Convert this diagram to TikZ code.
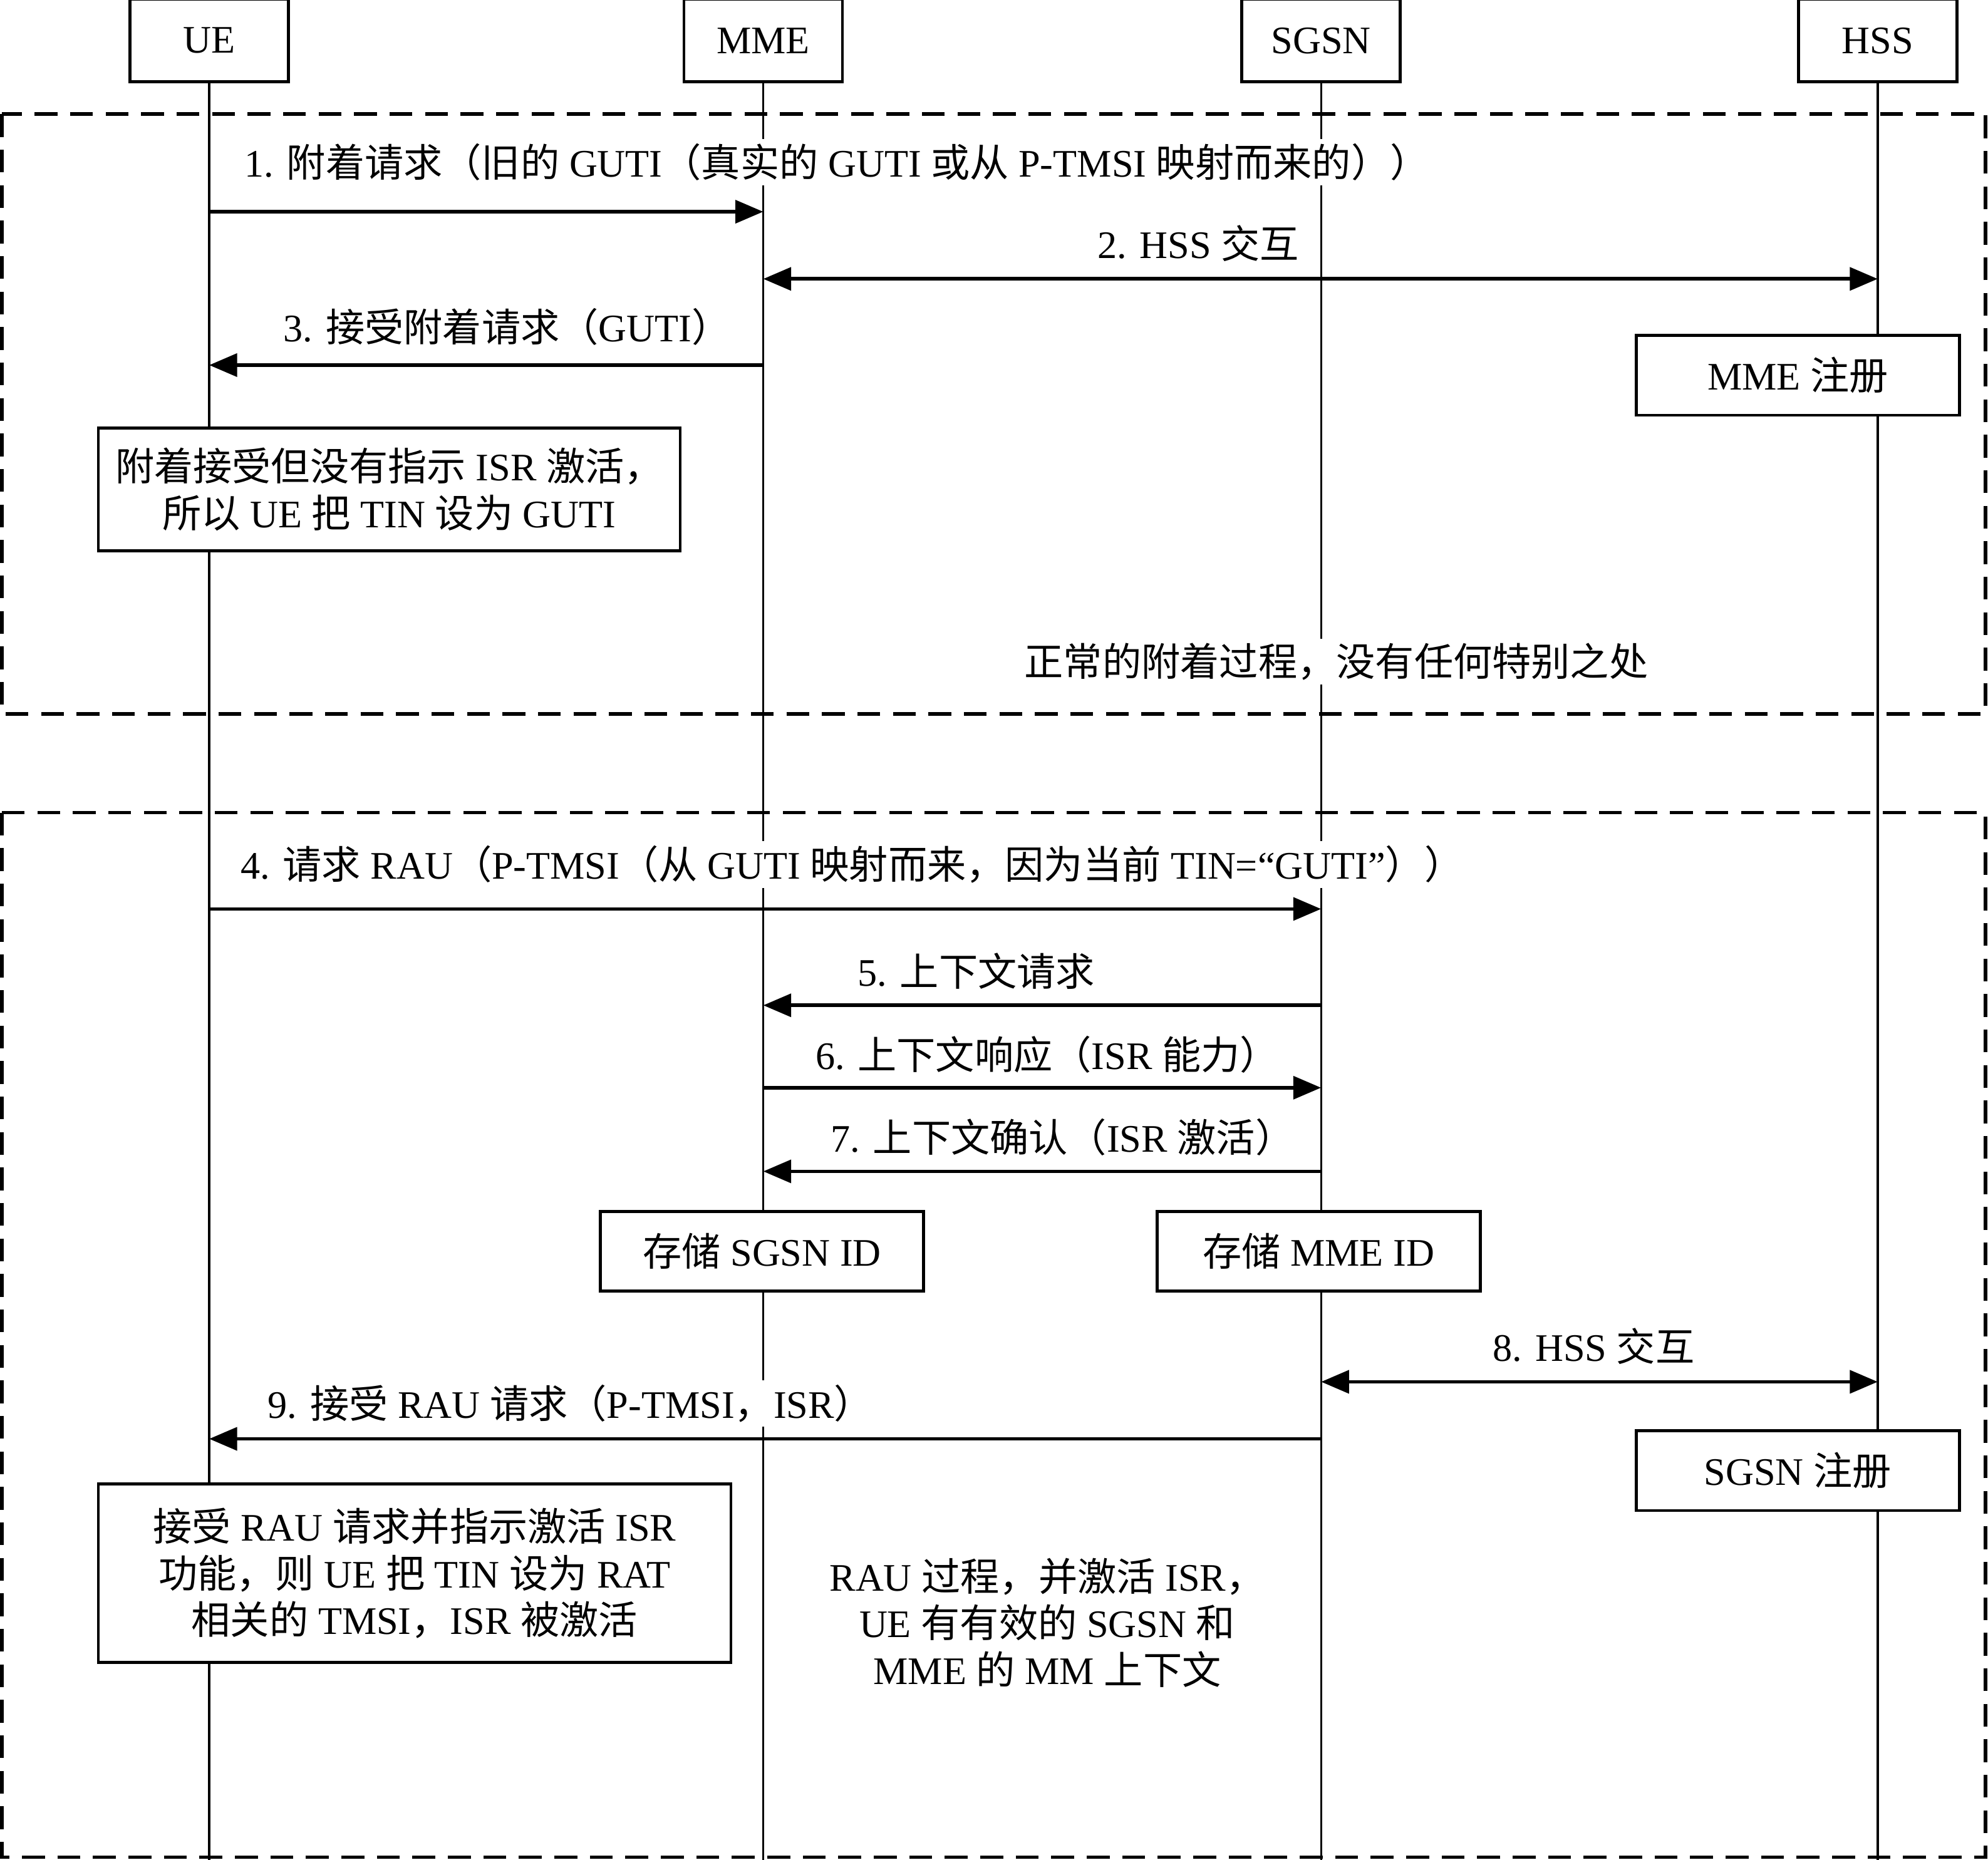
\documentclass[tikz,border=0pt]{standalone}
\usepackage{fontspec}
\setmainfont{Liberation Serif}
\newfontfamily\cjk{Noto Sans CJK SC}
% switch to the CJK family for Chinese characters
\XeTeXinterchartokenstate=1
\newXeTeXintercharclass\cjkclass
\count255="4E00
\loop \XeTeXcharclass\count255=\cjkclass \advance\count255 by 1 \ifnum\count255<"A000 \repeat
\XeTeXcharclass"FF08=\cjkclass
\XeTeXcharclass"FF09=\cjkclass
\XeTeXcharclass"FF0C=\cjkclass
\XeTeXinterchartoks 0 \cjkclass = {\cjk}
\XeTeXinterchartoks 4095 \cjkclass = {\cjk}
\XeTeXinterchartoks \cjkclass 0 = {\rmfamily}
\XeTeXinterchartoks \cjkclass 4095 = {\rmfamily}
\usepackage{tikz}
\usetikzlibrary{arrows.meta}
\usetikzlibrary{positioning}
\tikzset{
    entity/.style = {draw,line width=1.3pt,fill=white,minimum width=2.5cm,minimum height=1.3cm},
    lifeline/.style = {line width=0.9pt},
    frame/.style = {line width=1.6pt,dash pattern=on 0.36cm off 0.2cm},
    note/.style = {draw,line width=1.3pt,fill=white,align=center},
    lbl/.style = {fill=white,inner sep=2pt}
}
\tikzset{
    msg/.style = {line width=1.6pt,-{Triangle[length=0.44cm,width=0.36cm]}},
    both/.style = {line width=1.6pt,{Triangle[length=0.44cm,width=0.36cm]}-{Triangle[length=0.44cm,width=0.36cm]}}
}

\begin{document}
\begin{tikzpicture}[x=0.02cm,y=-0.02cm,font=\fontsize{17.5pt}{21pt}\selectfont]
    \useasboundingbox (0,0) rectangle (1568,1467);
    % Frames
    \draw[frame] (1.5,90) rectangle (1566,563);
    \draw[frame] (1.5,641) rectangle (1566,1465);
    % Entities
    \node[entity] (UE) at (165,32) {UE};
    \node[entity] (MME) at (602,32) {MME};
    \node[entity] (SGSN) at (1042,32) {SGSN};
    \node[entity] (HSS) at (1481,32) {HSS};
    % Lifeline ends
    \path (165,1467) coordinate (UEend)
        (602,1467) coordinate (MMEend)
        (1042,1467) coordinate (SGSNend)
        (1481,1467) coordinate (HSSend)
    ;
    \foreach \e in {UE,MME,SGSN,HSS}
        \draw[lifeline] (\e) to (\e end);
    % Message points
    \foreach \n/\y in {1/167,2/220,3/288,4/717,5/793,6/858,7/924,8/1090,9/1135}
        \foreach \e/\x in {ue/165,mme/602,sgsn/1042,hss/1481}
            \coordinate (\e\n) at (\x,\y);
    % Messages
    \foreach \src/\dest in {ue1/mme1,mme3/ue3,ue4/sgsn4,sgsn5/mme5,mme6/sgsn6,sgsn7/mme7,sgsn9/ue9}
        \draw[msg] (\src) to (\dest);
    \foreach \src/\dest in {mme2/hss2,sgsn8/hss8}
        \draw[both] (\src) to (\dest);
    % Labels
    \node[lbl] (l1) at (660,128) {1. 附着请求（旧的 GUTI（真实的 GUTI 或从 P-TMSI 映射而来的））};
    \node[lbl] (l2) at (945,192) {2. HSS 交互};
    \node[lbl] (l3) at (400,258) {3. 接受附着请求（GUTI）};
    \node[lbl] (l4) at (672,682) {4. 请求 RAU（P-TMSI（从 GUTI 映射而来，因为当前 TIN=“GUTI”））};
    \node[lbl] (l5) at (770,766) {5. 上下文请求};
    \node[lbl] (l6) at (826,832) {6. 上下文响应（ISR 能力）};
    \node[lbl] (l7) at (838,897) {7. 上下文确认（ISR 激活）};
    \node[lbl] (l8) at (1257,1062) {8. HSS 交互};
    \node[lbl] (l9) at (450,1107) {9. 接受 RAU 请求（P-TMSI，ISR）};
    \node[lbl] (attach) at (1054,522) {正常的附着过程，没有任何特别之处};
    \node[align=center] (rau) at (826,1280) {RAU 过程，并激活 ISR，\\UE 有有效的 SGSN 和\\MME 的 MM 上下文};
    % Notes
    \node[note,minimum width=5.1cm,minimum height=1.26cm] (mmereg) at (1418,296) {MME 注册};
    \node[note,minimum width=9.18cm,minimum height=1.94cm] (uenote1) at (307,386) {附着接受但没有指示 ISR 激活，\\所以 UE 把 TIN 设为 GUTI};
    \node[note,minimum width=5.1cm,minimum height=1.26cm] (storesgsn) at (601,987) {存储 SGSN ID};
    \node[note,minimum width=5.1cm,minimum height=1.26cm] (storemme) at (1040,987) {存储 MME ID};
    \node[note,minimum width=5.1cm,minimum height=1.26cm] (sgsnreg) at (1418,1160) {SGSN 注册};
    \node[note,minimum width=9.98cm,minimum height=2.82cm] (uenote2) at (327,1241) {接受 RAU 请求并指示激活 ISR\\功能，则 UE 把 TIN 设为 RAT\\相关的 TMSI，ISR 被激活};
\end{tikzpicture}
\end{document}
